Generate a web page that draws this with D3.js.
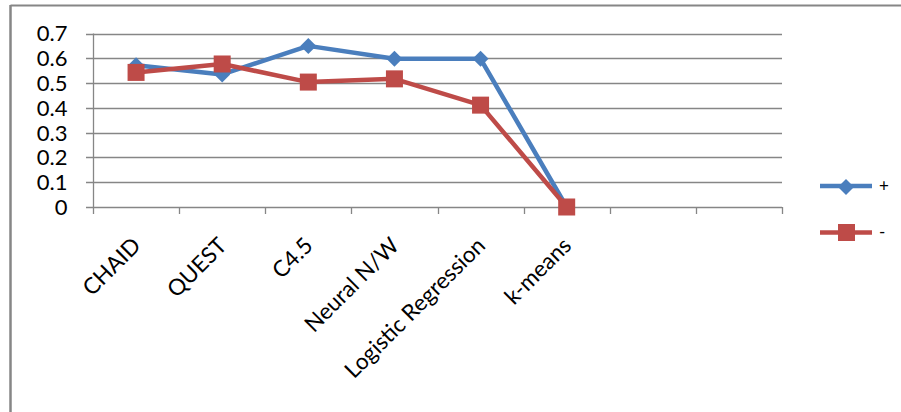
<!DOCTYPE html>
<html><head><meta charset="utf-8">
<script src="https://cdn.jsdelivr.net/npm/d3@7"></script>
<style>
html,body{margin:0;padding:0;background:#fff;}
svg{display:block;}
text{font-family:Lato, "Open Sans", sans-serif;}
</style></head>
<body>
<script>
const categories = ["CHAID","QUEST","C4.5","Neural N/W","Logistic Regression","k-means","",""];
const plusValues = [0.572, 0.535, 0.65, 0.598, 0.598, 0];
const minusValues = [0.543, 0.577, 0.504, 0.517, 0.411, 0];
const yTicks = [0,0.1,0.2,0.3,0.4,0.5,0.6,0.7];
const seriesNames = ["+","-"];
const seriesColors = ["#4A7EBD","#BE4B48"];

const W = 901, H = 412;
const svg = d3.select("body").append("svg").attr("width",W).attr("height",H);

// outer frame (top and left edges visible)
svg.append("line").attr("x1",10.5).attr("x2",W).attr("y1",5.5).attr("y2",5.5).attr("stroke","#868686").attr("stroke-width",2);
svg.append("line").attr("x1",10.5).attr("x2",10.5).attr("y1",5).attr("y2",H).attr("stroke","#868686").attr("stroke-width",2.5);

const x = d3.scaleBand().domain(d3.range(categories.length)).range([93,782]);
const y = d3.scaleLinear().domain([0,0.7]).range([207,33.5]);

// gridlines
svg.append("g").selectAll("line").data(yTicks).join("line")
  .attr("x1",86).attr("x2",782)
  .attr("y1",d=>Math.round(y(d))+0.5).attr("y2",d=>Math.round(y(d))+0.5)
  .attr("stroke","#868686").attr("stroke-width",1.3);

// y axis
svg.append("line").attr("x1",93.5).attr("x2",93.5).attr("y1",y(0.7)).attr("y2",y(0)).attr("stroke","#868686").attr("stroke-width",1.3);
svg.append("g").selectAll("text").data(yTicks).join("text")
  .attr("x",67.5).attr("y",d=>y(d)).attr("dy","0.36em")
  .attr("text-anchor","end").attr("font-size",22).attr("fill","#000")
  .text(d=>d===0?"0":d3.format(".1f")(d));

// x axis ticks
const bounds = d3.range(categories.length+1).map(i=> i<categories.length ? x(i) : x(categories.length-1)+x.bandwidth());
svg.append("g").selectAll("line").data(bounds).join("line")
  .attr("x1",d=>Math.round(d)+0.5).attr("x2",d=>Math.round(d)+0.5)
  .attr("y1",y(0)).attr("y2",y(0)+7)
  .attr("stroke","#868686").attr("stroke-width",1.3);

// category labels
svg.append("g").selectAll("text").data(categories).join("text")
  .attr("transform",(d,i)=>`translate(${x(i)+x.bandwidth()/2+6},${247}) rotate(-45)`)
  .attr("text-anchor","end").attr("font-size",22.5).attr("fill","#000")
  .text(d=>d);

const cx = i => x(i)+x.bandwidth()/2;
const line = d3.line().x((d,i)=>cx(i)).y(d=>y(d));

svg.append("path").datum(plusValues).attr("d",line).attr("fill","none")
  .attr("stroke",seriesColors[0]).attr("stroke-width",4.5).attr("stroke-linejoin","round");
svg.append("path").datum(minusValues).attr("d",line).attr("fill","none")
  .attr("stroke",seriesColors[1]).attr("stroke-width",4.5).attr("stroke-linejoin","round");

const diamond = (px,py,s)=>`M${px},${py-s}L${px+s},${py}L${px},${py+s}L${px-s},${py}Z`;
svg.append("g").selectAll("path").data(plusValues).join("path")
  .attr("d",(d,i)=>diamond(cx(i),y(d),8)).attr("fill",seriesColors[0]);
svg.append("g").selectAll("rect").data(minusValues).join("rect")
  .attr("x",(d,i)=>cx(i)-8.5).attr("y",d=>y(d)-8.5).attr("width",17).attr("height",17)
  .attr("fill",seriesColors[1]);

// legend
const lg = svg.append("g");
const legY = [186, 232.5];
lg.selectAll("line").data(seriesNames).join("line")
  .attr("x1",820).attr("x2",872).attr("y1",(d,i)=>legY[i]).attr("y2",(d,i)=>legY[i])
  .attr("stroke",(d,i)=>seriesColors[i]).attr("stroke-width",4.5);
lg.append("path").attr("d",diamond(846,187,8)).attr("fill",seriesColors[0]);
lg.append("rect").attr("x",838).attr("y",224).attr("width",17).attr("height",17).attr("fill",seriesColors[1]);
lg.selectAll("text").data(seriesNames).join("text")
  .attr("x",879).attr("y",(d,i)=>legY[i]).attr("dy","0.35em")
  .attr("font-size",17).attr("fill","#000").text(d=>d);
</script>
</body></html>
